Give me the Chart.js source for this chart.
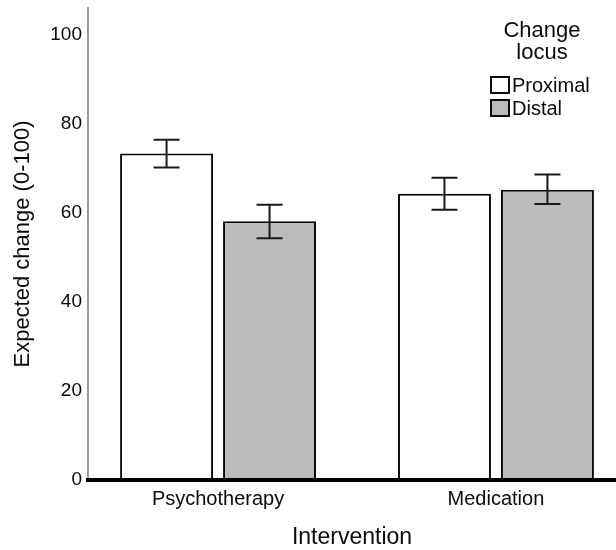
<!DOCTYPE html>
<html>
<head>
<meta charset="utf-8">
<script src="https://cdn.jsdelivr.net/npm/chart.js@4.4.0/dist/chart.umd.min.js"></script>
<style>
  html, body { margin: 0; padding: 0; background: #fff; }
  #wrap { width: 616px; height: 550px; }
</style>
</head>
<body>
<div id="wrap"><canvas id="chart" width="616" height="550"></canvas></div>
<script>
// Data
const interventions = ['Psychotherapy', 'Medication'];
const locusLabels = ['Proximal', 'Distal'];
const proximalMeans = [73.3, 64.3];
const proximalLow = [70.2, 60.7];
const proximalHigh = [76.4, 67.9];
const distalMeans = [58.1, 65.2];
const distalLow = [54.3, 62.0];
const distalHigh = [61.8, 68.6];
const yTicks = [0, 20, 40, 60, 80, 100];

const FONT = '"Liberation Sans", Arial, Helvetica, sans-serif';
const INK = '#0a0a0a';
Chart.defaults.font.family = FONT;
Chart.defaults.color = INK;

const toPoints = vals => vals.map((v, i) => ({ x: i + 1, y: v }));

// Error bars drawn from each bar's own position and the y scale
const errorBars = {
    id: 'errorBars',
    afterDatasetsDraw(chart) {
        const ctx = chart.ctx;
        const yScale = chart.scales.y;
        const cap = 13;
        ctx.save();
        ctx.strokeStyle = '#1a1a1a';
        ctx.lineWidth = 2;
        chart.data.datasets.forEach((ds, di) => {
            const meta = chart.getDatasetMeta(di);
            meta.data.forEach((bar, i) => {
                const top = yScale.getPixelForValue(ds.errHigh[i]);
                const bot = yScale.getPixelForValue(ds.errLow[i]);
                ctx.beginPath();
                ctx.moveTo(bar.x, top);
                ctx.lineTo(bar.x, bot);
                ctx.moveTo(bar.x - cap, top);
                ctx.lineTo(bar.x + cap, top);
                ctx.moveTo(bar.x - cap, bot);
                ctx.lineTo(bar.x + cap, bot);
                ctx.stroke();
            });
        });
        ctx.restore();
    }
};

// Legend with a two-line title, sitting inside the plot at top right
const locusLegend = {
    id: 'locusLegend',
    afterDraw(chart) {
        const ctx = chart.ctx;
        ctx.save();
        ctx.fillStyle = INK;
        ctx.textBaseline = 'middle';
        ctx.textAlign = 'center';
        ctx.font = '22px ' + FONT;
        ctx.fillText('Change', 542, 31);
        ctx.fillText('locus', 542, 53);
        ctx.textAlign = 'left';
        ctx.font = '20px ' + FONT;
        chart.data.datasets.forEach((ds, i) => {
            const top = 77 + i * 23;
            ctx.fillStyle = ds.backgroundColor;
            ctx.fillRect(491, top, 18, 16);
            ctx.lineWidth = 2;
            ctx.strokeStyle = INK;
            ctx.strokeRect(491, top, 18, 16);
            ctx.fillStyle = INK;
            ctx.fillText(ds.label, 512, top + 9);
        });
        ctx.restore();
    }
};

const barStyle = {
    borderColor: INK,
    borderWidth: 2,
    categoryPercentage: 0.741,
    barPercentage: 0.903
};

new Chart(document.getElementById('chart'), {
    type: 'bar',
    data: {
        datasets: [
            Object.assign({
                label: locusLabels[0],
                data: toPoints(proximalMeans),
                errLow: proximalLow,
                errHigh: proximalHigh,
                backgroundColor: '#ffffff'
            }, barStyle),
            Object.assign({
                label: locusLabels[1],
                data: toPoints(distalMeans),
                errLow: distalLow,
                errHigh: distalHigh,
                backgroundColor: '#bbbbbb'
            }, barStyle)
        ]
    },
    options: {
        responsive: false,
        animation: false,
        devicePixelRatio: 1,
        layout: { padding: { top: 8, left: 0, right: 0, bottom: 0 } },
        plugins: {
            legend: { display: false },
            tooltip: { enabled: false }
        },
        scales: {
            x: {
                type: 'linear',
                offset: false,
                min: 0.532,
                max: 2.432,
                afterBuildTicks: s => { s.ticks = interventions.map((c, i) => ({ value: i + 1 })); },
                afterFit: s => { s.height = 70; s.paddingLeft = 0; s.paddingRight = 0; },
                grid: { display: false, drawTicks: false },
                border: { display: true, color: '#000000', width: 4, z: 1 },
                ticks: {
                    callback: v => interventions[v - 1],
                    font: { size: 20 },
                    color: INK,
                    padding: 7,
                    autoSkip: false,
                    maxRotation: 0
                },
                title: {
                    display: true,
                    text: 'Intervention',
                    font: { size: 23 },
                    color: INK,
                    padding: { top: 0, bottom: -1 }
                }
            },
            y: {
                min: 0,
                max: 106,
                afterBuildTicks: s => { s.ticks = yTicks.map(v => ({ value: v })); },
                afterFit: s => { s.width = 88; s.paddingTop = 0; s.paddingBottom = 0; },
                grid: { display: false, drawTicks: false },
                border: { display: true, color: '#9a9a9a', width: 2 },
                ticks: { font: { size: 19 }, color: INK, padding: 6 },
                title: {
                    display: true,
                    text: 'Expected change (0-100)',
                    font: { size: 22 },
                    color: INK,
                    padding: { top: 10, bottom: 0 }
                }
            }
        }
    },
    plugins: [errorBars, locusLegend]
});
</script>
</body>
</html>
